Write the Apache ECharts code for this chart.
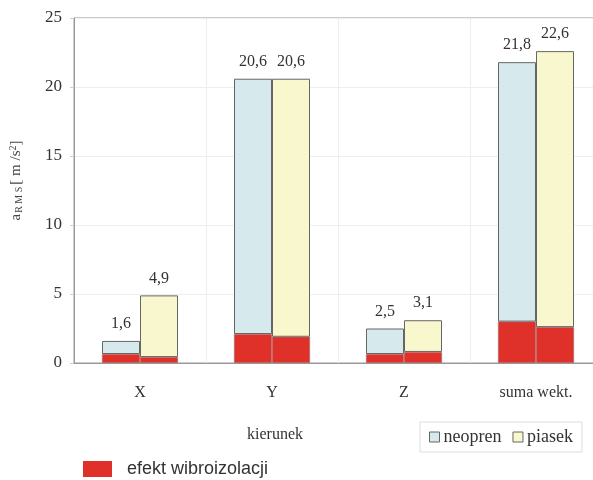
<!DOCTYPE html>
<html>
<head>
<meta charset="utf-8">
<script src="https://cdn.jsdelivr.net/npm/echarts@6/dist/echarts.min.js"></script>
<style>
  html, body { margin: 0; padding: 0; background: #fff; overflow: hidden; }
  /* wykres szerszy niz okno - prawa krawedz ucieta jak w oryginale */
  #chart { width: 606px; height: 480px; }
</style>
</head>
<body>
<div id="chart"></div>
<script>
// kierunki pomiaru
const categories = ['X', 'Y', 'Z', 'suma wekt.'];
// wartosci calkowite aRMS [m/s2]
const neopren = [1.6, 20.6, 2.5, 21.8];
const piasek = [4.9, 20.6, 3.1, 22.6];
// czesc czerwona - efekt wibroizolacji
const efektNeopren = [0.65, 2.1, 0.65, 3.0];
const efektPiasek = [0.43, 1.9, 0.8, 2.6];

const serif = 'Liberation Serif';
const red = '#e0302a';
const blue = '#d6e9ed';
const yellow = '#f9f7cd';
const edge = '#666';

const fmt = v => String(v).replace('.', ',');

const chart = echarts.init(document.getElementById('chart'));
chart.setOption({
  animation: false,
  grid: {
    left: 74, top: 18, height: 345, width: 528,
    show: true, borderColor: '#999', borderWidth: 1
  },
  legend: [
    {
      data: ['neopren', 'piasek'],
      left: 420, top: 422,
      icon: 'rect',
      itemWidth: 10, itemHeight: 10, itemGap: 11,
      padding: [6, 9],
      borderColor: '#ddd', borderWidth: 1,
      textStyle: { fontFamily: serif, fontSize: 18, color: '#333', padding: [0, 0, 0, -1] },
      itemStyle: { borderColor: edge, borderWidth: 1 }
    },
    {
      data: ['efekt wibroizolacji'],
      left: 83, top: 460,
      padding: 0,
      icon: 'rect',
      itemWidth: 29, itemHeight: 16,
      textStyle: { fontFamily: 'Liberation Sans', fontSize: 18, color: '#333', padding: [0, 0, 0, 10] },
      itemStyle: { borderWidth: 0 }
    }
  ],
  xAxis: {
    type: 'category',
    data: categories,
    name: 'kierunek',
    nameLocation: 'middle',
    nameGap: 64,
    nameTextStyle: { fontFamily: serif, fontSize: 16, color: '#333', padding: [0, 126, 0, 0] },
    axisLine: { lineStyle: { color: '#999' } },
    axisTick: { show: false },
    axisLabel: { fontFamily: serif, fontSize: 16, color: '#333', margin: 22 },
    splitLine: { show: true, lineStyle: { color: '#eee' } }
  },
  yAxis: {
    type: 'value',
    min: 0, max: 25, interval: 5,
    name: '{a|a}{s|R M S}{a|[ m /s}{p|2}{a|]}',
    nameLocation: 'middle',
    nameGap: 50,
    nameRotate: 90,
    nameTextStyle: {
      color: '#444',
      padding: [0, 0, 0, 20],
      rich: {
        a: { fontFamily: serif, fontSize: 15, color: '#444' },
        s: { fontFamily: serif, fontSize: 10, color: '#444', verticalAlign: 'bottom', padding: [6, 2, 0, 1] },
        p: { fontFamily: serif, fontSize: 10, color: '#444', verticalAlign: 'top', padding: [0, 0, 6, 0] }
      }
    },
    axisLine: { show: true, lineStyle: { color: '#999' } },
    axisTick: { show: true, length: 4, lineStyle: { color: '#ccc' } },
    axisLabel: { fontFamily: serif, fontSize: 17, color: '#333', margin: 12 },
    splitLine: { lineStyle: { color: '#eee' } }
  },
  series: [
    {
      name: 'efekt wibroizolacji', type: 'bar', stack: 'n',
      barWidth: 38, barGap: '0%',
      itemStyle: { color: red, borderColor: '#888', borderWidth: 0.5 },
      data: efektNeopren
    },
    {
      name: 'neopren', type: 'bar', stack: 'n',
      itemStyle: { color: blue, borderColor: edge, borderWidth: 1 },
      label: {
        show: true, position: 'top', distance: 9,
        fontFamily: serif, fontSize: 16, color: '#333',
        formatter: p => fmt(neopren[p.dataIndex])
      },
      data: neopren.map((v, i) => +(v - efektNeopren[i]).toFixed(2))
    },
    {
      name: 'efekt wibroizolacji', type: 'bar', stack: 'p',
      barWidth: 38, barGap: '0%',
      itemStyle: { color: red, borderColor: '#888', borderWidth: 0.5 },
      data: efektPiasek
    },
    {
      name: 'piasek', type: 'bar', stack: 'p',
      itemStyle: { color: yellow, borderColor: edge, borderWidth: 1 },
      label: {
        show: true, position: 'top', distance: 9,
        fontFamily: serif, fontSize: 16, color: '#333',
        formatter: p => fmt(piasek[p.dataIndex])
      },
      data: piasek.map((v, i) => +(v - efektPiasek[i]).toFixed(2))
    }
  ]
});
</script>
</body>
</html>
